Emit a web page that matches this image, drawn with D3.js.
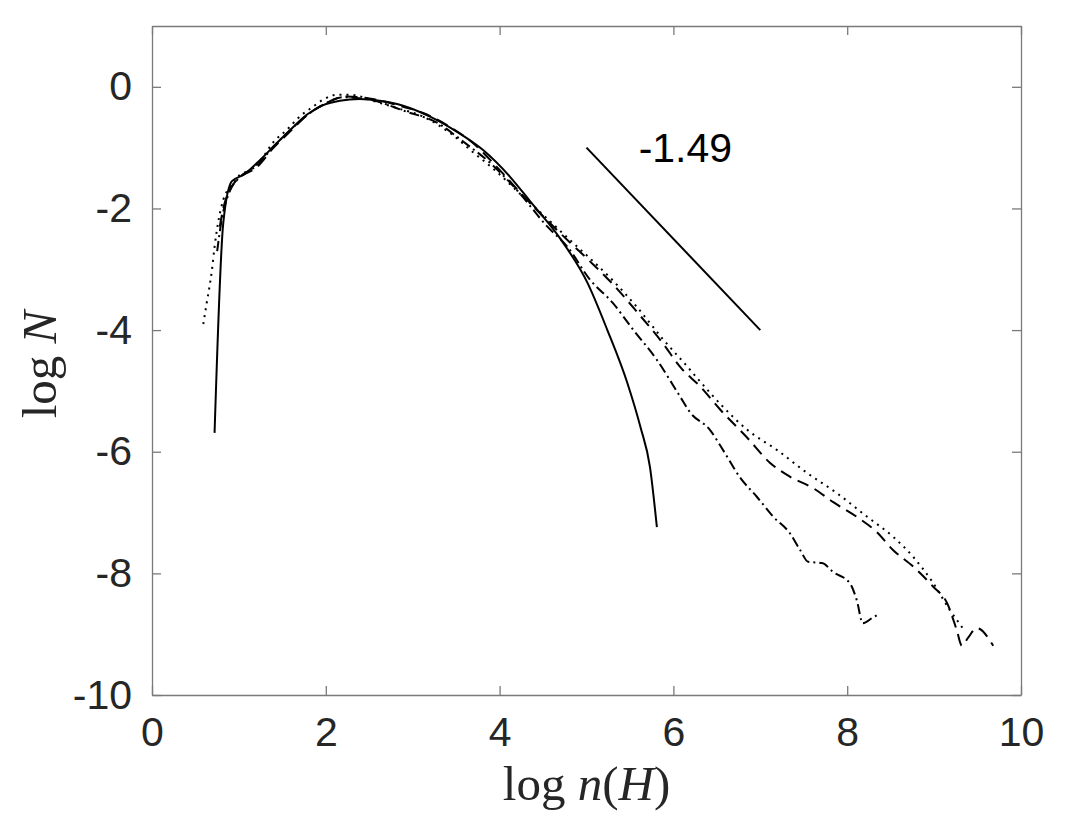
<!DOCTYPE html>
<html>
<head>
<meta charset="utf-8">
<script src="https://cdn.jsdelivr.net/npm/d3@7"></script>
<style>
  body { margin: 0; background: #fff; }
  svg { display: block; }
</style>
</head>
<body>
<svg width="1074" height="818"></svg>
<script>
// x/y values, one pair of arrays per line
var solidX = [0.72, 0.82, 0.92, 1.05, 1.21, 1.44, 1.59, 1.78, 1.97, 2.16, 2.39, 2.62, 2.89, 3.20, 3.51, 3.81, 4.12, 4.35, 4.70, 5.01, 5.24, 5.47, 5.62, 5.73, 5.81];
var solidY = [-5.69, -2.24, -1.55, -1.45, -1.25, -0.92, -0.71, -0.46, -0.30, -0.23, -0.20, -0.23, -0.31, -0.49, -0.74, -1.04, -1.48, -1.88, -2.50, -3.22, -4.00, -4.87, -5.59, -6.25, -7.24];

var dottedX = [0.59, 0.63, 0.69, 0.72, 0.76, 0.82, 0.90, 1.01, 1.13, 1.28, 1.39, 1.55, 1.70, 1.85, 1.97, 2.13, 2.28, 2.59, 2.82, 3.12, 3.43, 3.69, 3.97, 4.25, 4.55, 4.81, 5.04, 5.30, 5.58, 5.88, 6.16, 6.31, 6.57, 6.85, 7.19, 7.54, 7.88, 8.23, 8.53, 8.76, 8.99, 9.18, 9.33];
var dottedY = [-3.90, -3.55, -3.01, -2.63, -2.24, -1.86, -1.64, -1.45, -1.37, -1.15, -0.92, -0.71, -0.49, -0.33, -0.21, -0.13, -0.13, -0.25, -0.35, -0.49, -0.76, -1.07, -1.40, -1.78, -2.17, -2.52, -2.82, -3.18, -3.62, -4.15, -4.60, -4.85, -5.26, -5.64, -5.97, -6.35, -6.68, -7.07, -7.40, -7.73, -8.16, -8.60, -8.90];

var dashedX = [0.78, 0.82, 0.90, 1.00, 1.20, 1.40, 1.60, 1.80, 2.00, 2.24, 2.50, 2.82, 3.12, 3.43, 3.69, 3.97, 4.25, 4.55, 4.81, 5.04, 5.30, 5.58, 5.88, 6.08, 6.31, 6.54, 6.85, 7.11, 7.34, 7.61, 7.84, 8.11, 8.34, 8.53, 8.76, 8.99, 9.15, 9.26, 9.32, 9.39, 9.49, 9.68];
var dashedY = [-2.30, -2.00, -1.68, -1.50, -1.33, -1.00, -0.72, -0.45, -0.27, -0.16, -0.19, -0.30, -0.43, -0.66, -0.92, -1.32, -1.76, -2.20, -2.56, -2.87, -3.24, -3.70, -4.22, -4.61, -4.93, -5.31, -5.77, -6.18, -6.41, -6.60, -6.83, -7.07, -7.32, -7.62, -7.89, -8.22, -8.49, -8.93, -9.19, -9.06, -8.90, -9.19];

var dashdotX = [0.75, 0.80, 0.90, 1.00, 1.20, 1.40, 1.60, 1.80, 2.00, 2.20, 2.50, 2.93, 3.28, 3.58, 3.89, 4.20, 4.55, 4.78, 5.04, 5.30, 5.54, 5.81, 6.08, 6.19, 6.42, 6.57, 6.77, 6.96, 7.15, 7.34, 7.46, 7.55, 7.71, 7.84, 8.03, 8.11, 8.18, 8.29, 8.35];
var dashdotY = [-2.70, -2.20, -1.70, -1.50, -1.30, -0.98, -0.70, -0.45, -0.27, -0.17, -0.21, -0.41, -0.59, -0.90, -1.25, -1.70, -2.30, -2.63, -3.17, -3.55, -4.00, -4.49, -5.10, -5.35, -5.64, -5.97, -6.43, -6.74, -7.07, -7.34, -7.62, -7.81, -7.83, -7.98, -8.16, -8.44, -8.82, -8.73, -8.68];

// slope guide line and its label
var slopeX = [5, 7];
var slopeY = [-1, -4];
var slopeLabel = "-1.49";

var xTicks = [0, 2, 4, 6, 8, 10];
var yTicks = [-10, -8, -6, -4, -2, 0];

var svg = d3.select("svg"),
    plotL = 152, plotR = 1021, plotT = 26, plotB = 695;

var x = d3.scaleLinear().domain([0, 10]).range([plotL, plotR]);
var y = d3.scaleLinear().domain([-10, 1]).range([plotB, plotT]);

var axisColor = "#7a7a7a",
    labelColor = "#262626",
    tickLen = 9;

var fmt = function(d) { return String(d); };

// axes: ticks point inwards, box on all four sides
function styleAxis(g) {
    g.select(".domain").attr("stroke", axisColor).attr("stroke-width", 1.3);
    g.selectAll(".tick line").attr("stroke", axisColor).attr("stroke-width", 1.3);
    g.selectAll(".tick text")
        .attr("fill", labelColor)
        .style("font-family", "'Liberation Sans', Arial, sans-serif")
        .style("font-size", "41px");
}

svg.append("g")
    .attr("transform", "translate(0," + plotB + ")")
    .call(d3.axisBottom(x).tickValues(xTicks).tickFormat(fmt).tickSizeInner(-tickLen).tickSizeOuter(0).tickPadding(22))
    .call(styleAxis);

svg.append("g")
    .attr("transform", "translate(0," + plotT + ")")
    .call(d3.axisTop(x).tickValues(xTicks).tickFormat("").tickSizeInner(-tickLen).tickSizeOuter(0))
    .call(styleAxis);

svg.append("g")
    .attr("transform", "translate(" + plotL + ",0)")
    .call(d3.axisLeft(y).tickValues(yTicks).tickFormat(fmt).tickSizeInner(-tickLen).tickSizeOuter(0).tickPadding(20))
    .call(styleAxis);

svg.append("g")
    .attr("transform", "translate(" + plotR + ",0)")
    .call(d3.axisRight(y).tickValues(yTicks).tickFormat("").tickSizeInner(-tickLen).tickSizeOuter(0))
    .call(styleAxis);

// curves
var series = [
    { xs: solidX, ys: solidY, dash: null },
    { xs: dottedX, ys: dottedY, dash: "2,5" },
    { xs: dashedX, ys: dashedY, dash: "12,7" },
    { xs: dashdotX, ys: dashdotY, dash: "10,4,2,4" }
];

var line = d3.line()
    .x(function(d) { return x(d[0]); })
    .y(function(d) { return y(d[1]); })
    .curve(d3.curveMonotoneX);

svg.append("g").selectAll("path")
    .data(series)
    .enter().append("path")
    .attr("d", function(s) { return line(d3.zip(s.xs, s.ys)); })
    .attr("fill", "none")
    .attr("stroke", "#000")
    .attr("stroke-width", 2)
    .attr("stroke-dasharray", function(s) { return s.dash; });

svg.append("path")
    .attr("d", d3.line().x(function(d) { return x(d[0]); }).y(function(d) { return y(d[1]); })(d3.zip(slopeX, slopeY)))
    .attr("fill", "none")
    .attr("stroke", "#000")
    .attr("stroke-width", 2);

svg.append("text")
    .attr("x", x(5.6))
    .attr("y", y(-1.05))
    .attr("dominant-baseline", "middle")
    .style("font-family", "'Liberation Sans', Arial, sans-serif")
    .style("font-size", "41px")
    .attr("fill", "#000")
    .text(slopeLabel);

// axis labels (latex style)
var xl = svg.append("text")
    .attr("x", (plotL + plotR) / 2)
    .attr("y", 800)
    .attr("text-anchor", "middle")
    .attr("fill", labelColor)
    .style("font-family", "'Liberation Serif', 'DejaVu Serif', serif")
    .style("font-size", "49px");
xl.append("tspan").text("log ");
xl.append("tspan").style("font-style", "italic").text("n");
xl.append("tspan").text("(");
xl.append("tspan").style("font-style", "italic").text("H");
xl.append("tspan").text(")");

var yl = svg.append("text")
    .attr("transform", "translate(56," + ((plotT + plotB) / 2 + 4) + ") rotate(-90)")
    .attr("text-anchor", "middle")
    .attr("fill", labelColor)
    .style("font-family", "'Liberation Serif', 'DejaVu Serif', serif")
    .style("font-size", "49px");
yl.append("tspan").text("log ");
yl.append("tspan").style("font-style", "italic").text("N");
</script>
</body>
</html>
